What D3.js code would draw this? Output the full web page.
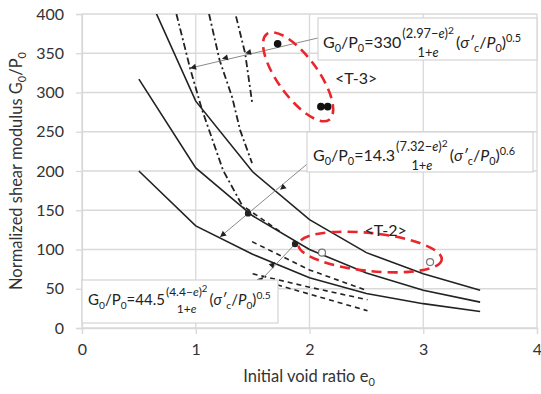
<!DOCTYPE html>
<html><head><meta charset="utf-8">
<script src="https://cdn.jsdelivr.net/npm/d3@7"></script>
<style>
html,body{margin:0;padding:0;background:#fff;}
svg{display:block;font-family:Lato,"Open Sans",sans-serif;}
</style></head><body>
<svg id="chart" width="541" height="394"></svg>
<script>
// ---- data ----
const xTicks = [0, 1, 2, 3, 4];
const yTicks = [0, 50, 100, 150, 200, 250, 300, 350, 400];

// solid curves: G0/P0 = 14.3 (7.32-e)^2/(1+e) (σ'c/P0)^0.6 at three stress levels
const voidRatio = [0.5, 1.0, 1.5, 2.0, 2.5, 3.0, 3.5];
const solidHigh = [450, 289, 199, 138, 96, 69, 48];
const solidMid  = [317, 204, 143, 100, 70, 48, 33];
const solidLow  = [200, 130, 94, 64, 44, 31, 21];

// dash-dot curves: G0/P0 = 330 (2.97-e)^2/(1+e) (σ'c/P0)^0.5
const dd1E = [0.83, 0.95, 1.055, 1.24, 1.416, 1.46];
const dd1G = [400, 331, 278, 201, 154, 146];
const dd2E = [1.117, 1.21, 1.32, 1.39, 1.495];
const dd2G = [400, 341, 294, 252, 210];
const dd3E = [1.354, 1.434, 1.495];
const dd3G = [397, 350, 288];

// dashed curves: G0/P0 = 44.5 (4.4-e)^2/(1+e) (σ'c/P0)^0.5
const ds1E = [1.44, 1.76];
const ds1G = [153, 121];
const ds2E = [1.495, 2.0, 2.50];
const ds2G = [110, 74, 48];
const ds3E = [1.50, 2.0, 2.51];
const ds3G = [69, 52, 36];
const ds4E = [1.715, 2.51];
const ds4G = [55, 22];

// measured points
const t3E = [1.72, 2.10, 2.16];
const t3G = [362, 282, 282];
const t2E = [2.11, 3.06];
const t2G = [96, 84];

// leader lines from each relation to its curves
const lead330E = [2.12, 0.95];
const lead330G = [371, 331];
const mark330E = [1.434, 1.23, 0.95];
const mark330G = [350, 343, 331];

const lead143E = [1.988, 1.214];
const lead143G = [210, 116];
const mark143E = [1.741, 1.214];
const mark143G = [176, 116];

const lead445E = [1.548, 1.873];
const lead445G = [57, 107];
const mark445E = [1.592, 1.697];
const mark445G = [65, 84];

const crossDotE = [1.46, 1.873];
const crossDotG = [146, 107];

// ---- layout ----
const svg = d3.select("#chart");
const x = d3.scaleLinear().domain([0, 4]).range([82, 537]);
const y = d3.scaleLinear().domain([0, 400]).range([328, 14]);
const gridCol = "#d9d9d9", ink = "#222";

svg.append("defs").append("clipPath").attr("id", "plot")
  .append("rect").attr("x", x(0)).attr("y", y(400))
  .attr("width", x(4) - x(0)).attr("height", y(0) - y(400));

// grid
svg.append("g").selectAll("line").data(yTicks).join("line")
  .attr("x1", x(0)).attr("x2", x(4)).attr("y1", d => y(d)).attr("y2", d => y(d))
  .attr("stroke", gridCol).attr("stroke-width", 1.3);
svg.append("g").selectAll("line").data(xTicks).join("line")
  .attr("x1", d => x(d)).attr("x2", d => x(d)).attr("y1", y(0)).attr("y2", y(400))
  .attr("stroke", gridCol).attr("stroke-width", 1.3);

// axes
const yAxis = svg.append("g").attr("transform", `translate(${x(0)},0)`)
  .call(d3.axisLeft(y).tickValues(yTicks).tickSize(6).tickPadding(12));
const xAxis = svg.append("g").attr("transform", `translate(0,${y(0)})`)
  .call(d3.axisBottom(x).tickValues(xTicks).tickSize(6).tickPadding(10).tickFormat(d3.format("d")));
[yAxis, xAxis].forEach(a => {
  a.select(".domain").attr("stroke", gridCol).attr("stroke-width", 1.3);
  a.selectAll(".tick line").attr("stroke", gridCol).attr("stroke-width", 1.3);
  a.selectAll("text").attr("font-size", 16).attr("fill", "#333")
    .attr("font-family", "Lato, 'Open Sans', sans-serif");
});

// axis titles
const yt = svg.append("text").attr("transform", "translate(22,171) rotate(-90)")
  .attr("text-anchor", "middle").attr("font-size", 16.5).attr("fill", "#333");
yt.append("tspan").text("Normalized shear modulus G");
yt.append("tspan").attr("font-size", 11).attr("dy", 4).text("0");
yt.append("tspan").attr("dy", -4).text("/P");
yt.append("tspan").attr("font-size", 11).attr("dy", 4).text("0");

const xt = svg.append("text").attr("x", 309).attr("y", 382)
  .attr("text-anchor", "middle").attr("font-size", 16.5).attr("fill", "#333");
xt.append("tspan").text("Initial void ratio e");
xt.append("tspan").attr("font-size", 11).attr("dy", 4).text("0");

// ---- curves ----
const plot = svg.append("g").attr("clip-path", "url(#plot)");
const line = d3.line().x(d => x(d[0])).y(d => y(d[1]));
const zip = (a, b) => a.map((v, i) => [v, b[i]]);

[solidHigh, solidMid, solidLow].forEach(s => {
  plot.append("path").attr("d", line(zip(voidRatio, s)))
    .attr("fill", "none").attr("stroke", ink).attr("stroke-width", 1.6);
});
[[dd1E, dd1G], [dd2E, dd2G], [dd3E, dd3G]].forEach(([e, g]) => {
  plot.append("path").attr("d", line(zip(e, g)))
    .attr("fill", "none").attr("stroke", ink).attr("stroke-width", 1.8)
    .attr("stroke-dasharray", "7,3,2,3");
});
[[ds1E, ds1G], [ds2E, ds2G], [ds3E, ds3G], [ds4E, ds4G]].forEach(([e, g]) => {
  plot.append("path").attr("d", line(zip(e, g)))
    .attr("fill", "none").attr("stroke", ink).attr("stroke-width", 1.6)
    .attr("stroke-dasharray", "5,4");
});

// ---- leader lines with arrow marks ----
function leader(le, lg, me, mg) {
  const p = zip(le, lg);
  svg.append("path").attr("d", line(p)).attr("fill", "none")
    .attr("stroke", "#8a8a8a").attr("stroke-width", 1);
  const ang = Math.atan2(y(lg[1]) - y(lg[0]), x(le[1]) - x(le[0])) * 180 / Math.PI;
  svg.append("g").selectAll("path").data(zip(me, mg)).join("path")
    .attr("transform", d => `translate(${x(d[0])},${y(d[1])}) rotate(${ang})`)
    .attr("d", "M0,0 L-6,-3 L-6,3 Z").attr("fill", ink);
}
leader(lead330E, lead330G, mark330E, mark330G);
leader(lead143E, lead143G, mark143E, mark143G);
leader(lead445E, lead445G, mark445E, mark445G);

svg.append("g").selectAll("circle").data(zip(crossDotE, crossDotG)).join("circle")
  .attr("cx", d => x(d[0])).attr("cy", d => y(d[1])).attr("r", 3.2).attr("fill", ink);

// ---- measured points ----
svg.append("g").selectAll("circle").data(zip(t3E, t3G)).join("circle")
  .attr("cx", d => x(d[0])).attr("cy", d => y(d[1])).attr("r", 3.8).attr("fill", "#111");
svg.append("g").selectAll("circle").data(zip(t2E, t2G)).join("circle")
  .attr("cx", d => x(d[0])).attr("cy", d => y(d[1])).attr("r", 3.5)
  .attr("fill", "#fff").attr("stroke", "#777").attr("stroke-width", 1.2);

// ---- group outlines ----
const red = "#e8262b";
function ring(ce, cg, rx, ry, rot) {
  svg.append("ellipse").attr("cx", 0).attr("cy", 0).attr("rx", rx).attr("ry", ry)
    .attr("transform", `translate(${x(ce)},${y(cg)}) rotate(${rot})`)
    .attr("fill", "none").attr("stroke", red).attr("stroke-width", 2.6)
    .attr("stroke-dasharray", "10,6");
}
ring(1.90, 320, 53, 20, 54);
ring(2.533, 96.8, 72, 19, 6);

svg.append("text").attr("x", x(2.41)).attr("y", y(318) + 6).attr("text-anchor", "middle")
  .attr("font-size", 16).attr("fill", ink).text("<T-3>");
svg.append("text").attr("x", x(2.67)).attr("y", y(125) + 6).attr("text-anchor", "middle")
  .attr("font-size", 16).attr("fill", ink).text("<T-2>");

// ---- relation boxes ----
function formula(bx, by, bw, bh, tx, ty, fs, coef, num, exp) {
  const g = svg.append("g");
  g.append("rect").attr("x", bx).attr("y", by).attr("width", bw).attr("height", bh)
    .attr("fill", "#fff").attr("stroke", "#d4d4d4").attr("stroke-width", 1.2);
  const sub = fs * 0.68, sh = fs * 0.28;
  const t = g.append("text").attr("x", tx).attr("y", ty).attr("font-size", fs).attr("fill", ink);
  t.append("tspan").text("G");
  t.append("tspan").attr("font-size", sub).attr("dy", sh).text("0");
  t.append("tspan").attr("dy", -sh).text("/P");
  t.append("tspan").attr("font-size", sub).attr("dy", sh).text("0");
  t.append("tspan").attr("dy", -sh).text("=" + coef);
  const w1 = t.node().getComputedTextLength();

  const ffs = fs * 0.8;
  const n = g.append("text").attr("font-size", ffs).attr("fill", ink).attr("y", ty - fs * 0.62);
  n.append("tspan").text("(" + num + "\u2212");
  n.append("tspan").attr("font-style", "italic").text("e");
  n.append("tspan").text(")");
  n.append("tspan").attr("font-size", ffs * 0.8).attr("dy", -ffs * 0.35).text("2");
  const d = g.append("text").attr("font-size", ffs).attr("fill", ink).attr("y", ty + fs * 0.55);
  d.append("tspan").text("1+");
  d.append("tspan").attr("font-style", "italic").text("e");
  const nw = n.node().getComputedTextLength(), dw = d.node().getComputedTextLength();
  const fw = Math.max(nw, dw);
  const fx = tx + w1 + 1;
  n.attr("x", fx + (fw - nw) / 2);
  d.attr("x", fx + (fw - dw) / 2);

  const p = g.append("text").attr("x", fx + fw + 2).attr("y", ty).attr("font-size", fs).attr("fill", ink);
  p.append("tspan").text("(");
  p.append("tspan").attr("font-style", "italic").text("\u03C3\u2032");
  p.append("tspan").attr("font-size", sub).attr("dy", sh).text("c");
  p.append("tspan").attr("dy", -sh).text("/");
  p.append("tspan").attr("font-style", "italic").text("P");
  p.append("tspan").attr("font-size", sub).attr("dy", sh).text("0");
  p.append("tspan").attr("dy", -sh).text(")");
  p.append("tspan").attr("font-size", sub).attr("dy", -fs * 0.4).text(exp);
}
formula(318, 18, 219, 42, 323, 48, 16, "330", "2.97", "0.5");
formula(307, 132, 226, 40, 313, 161, 16, "14.3", "7.32", "0.6");
formula(82, 280, 196, 43, 88, 305, 15, "44.5", "4.4", "0.5");
</script>
</body></html>
